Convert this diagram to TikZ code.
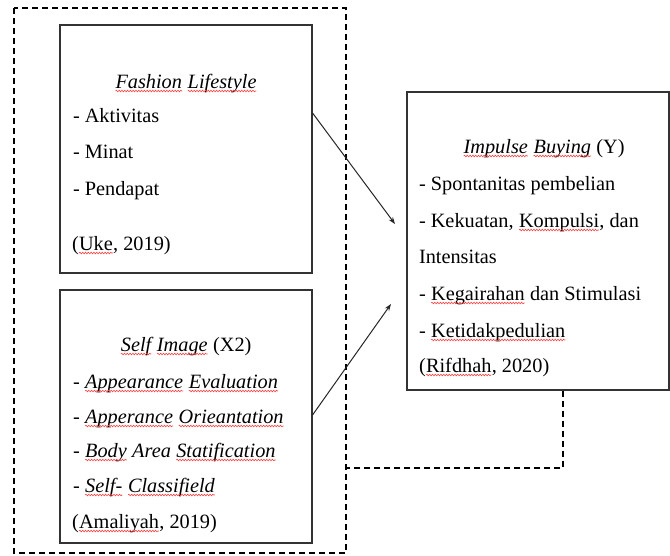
\documentclass[tikz,border=0pt]{standalone}
\usepackage{fontspec}
\setmainfont{Liberation Serif}
\usetikzlibrary{arrows.meta,decorations.pathmorphing}
\tikzset{
  box/.style={draw=black!80,line width=1.1pt,inner sep=0pt},
  dsh/.style={draw=black,line width=1.1pt,dash pattern=on 6pt off 4pt},
  txt/.style={inner sep=0pt,outer sep=0pt,anchor=base west,font=\fontsize{20.3}{24}\selectfont},
  ctxt/.style={txt,anchor=base},
  arr/.style={draw=black!85,line width=1pt,-{Stealth[length=7pt,width=5pt]}},
  sqline/.style={draw=red!75!white,line width=0.6pt,decorate,decoration={snake,amplitude=0.8pt,segment length=2.8pt}}
}
\newcommand\sq[1]{\tikz[baseline=(sqw.base)]{\node[inner sep=0pt,outer sep=0pt,anchor=base](sqw){#1};\draw[sqline]([yshift=-3pt]sqw.base west)--([yshift=-3pt]sqw.base east);}}
\begin{document}
\begin{tikzpicture}[x=1pt,y=-1pt]
\useasboundingbox (0,0) rectangle (670,555);
% outer dashed frame and dashed link
\draw[dsh] (14,8) rectangle (346,553);
% boxes
\node[box,minimum width=252pt,minimum height=248pt] (f) at (186,149) {};
\node[box,minimum width=252pt,minimum height=253pt] (s) at (186,416.5) {};
\node[box,minimum width=262pt,minimum height=298pt] (y) at (538,241) {};
\coordinate (d1) at (563,468);
\draw[dsh] (y.south -| d1) -- (d1) -- (346,468);
% Fashion Lifestyle
\node[ctxt] (f0) at (186,88) {\itshape\sq{Fashion} \sq{Lifestyle}};
\node[txt] (f1) at (73,122) {- Aktivitas};
\node[txt] (f2) at (73,158) {- Minat};
\node[txt] (f3) at (73,195) {- Pendapat};
\node[txt] (f4) at (72,250) {(\sq{Uke}, 2019)};
% Self Image
\node[ctxt] (s0) at (186,351) {\itshape\sq{Self} \sq{Image} \upshape(X2)};
\node[txt] (s1) at (73,388) {- \itshape\sq{Appearance} \sq{Evaluation}};
\node[txt] (s2) at (73,423) {- \itshape\sq{Apperance} \sq{Orieantation}};
\node[txt] (s3) at (73,457) {- \itshape\sq{Body} Area \sq{Statification}};
\node[txt] (s4) at (73,492) {- \itshape\sq{Self-} \sq{Classifield}};
\node[txt] (s5) at (72,528) {(\sq{Amaliyah}, 2019)};
% Impulse Buying
\node[ctxt] (y0) at (544,153) {\itshape\sq{Impulse} \sq{Buying} \upshape(Y)};
\node[txt] (y1) at (419,190) {- Spontanitas pembelian};
\node[txt] (y2) at (419,227) {- Kekuatan, \sq{Kompulsi}, dan};
\node[txt] (y3) at (419,263) {Intensitas};
\node[txt] (y4) at (419,300) {- \sq{Kegairahan} dan Stimulasi};
\node[txt] (y5) at (419,337) {- \sq{Ketidakpedulian}};
\node[txt] (y6) at (419,372) {(\sq{Rifdhah}, 2020)};
% arrows
\coordinate (a1) at (f.east |- 0,113);
\coordinate (t1) at (395,224);
\coordinate (a2) at (s.east |- 0,415);
\coordinate (t2) at (391,304);
\draw[arr] (a1) -- (t1);
\draw[arr] (a2) -- (t2);
\end{tikzpicture}
\end{document}
